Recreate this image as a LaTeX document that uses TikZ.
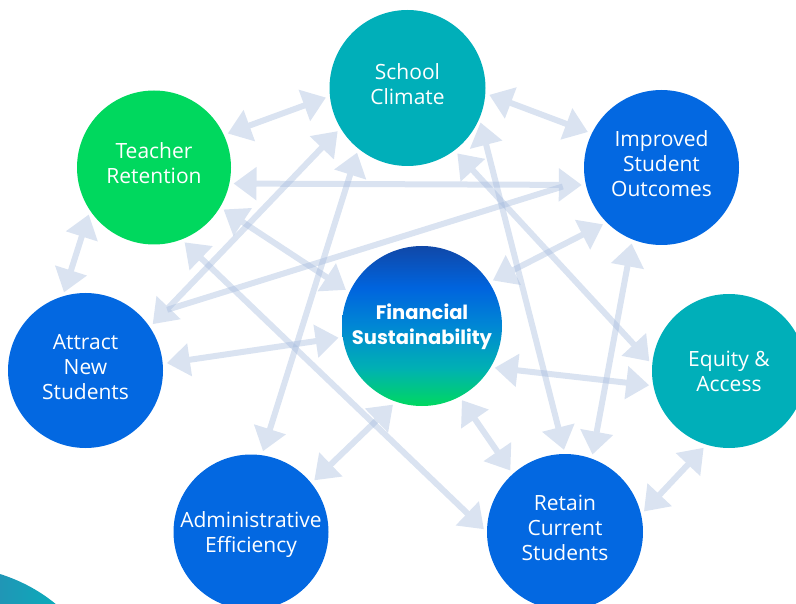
\documentclass[tikz,border=0pt]{standalone}
\usepackage{fontspec}
\setmainfont{Open Sans}
\newfontfamily\fsfont{Poppins}
\usetikzlibrary{arrows.meta,backgrounds}

\definecolor{tealc}{RGB}{0,175,185}
\definecolor{greenc}{RGB}{0,216,94}
\definecolor{bluec}{RGB}{3,104,225}
\definecolor{linkc}{RGB}{162,185,220}
\definecolor{fsD}{RGB}{16,72,168}
\definecolor{fsB}{RGB}{0,100,222}
\definecolor{fsM}{RGB}{0,135,212}
\definecolor{fsT}{RGB}{0,176,180}
\definecolor{fsG}{RGB}{0,216,96}
\definecolor{swA}{RGB}{32,150,182}
\definecolor{swB}{RGB}{10,172,186}

% vertical blend for the central circle: green at the bottom, dark blue on top
\pgfdeclareverticalshading{fsgrad}{100bp}{%
  color(0bp)=(fsG); color(25bp)=(fsG); color(37bp)=(fsT);
  color(50bp)=(fsM); color(62bp)=(fsB); color(75bp)=(fsD); color(100bp)=(fsD)}

\tikzset{
  bubble/.style={circle, inner sep=0pt, text=white, align=center,
    text depth=8pt, font=\fontsize{21}{25}\selectfont},
  tipshape/.tip={Triangle[length=23pt,width=32pt]},
  link/.style={line width=6pt, draw=linkc,
    tipshape-tipshape, shorten <=4pt, shorten >=4pt},
  plainlink/.style={line width=6pt, draw=linkc},
}
% every connector is its own see-through group, so crossings darken
\newcommand\linkpath[3]{%
  \begin{scope}[transparency group, opacity=0.4]
    \draw[#1] (#2) -- (#3);
  \end{scope}}

\begin{document}
\begin{tikzpicture}[x=1pt,y=-1pt]
\useasboundingbox (0,0) rectangle (796,604);
\clip (0,0) rectangle (796,604);

% corner swoosh
\shade[left color=swA, right color=swB]
  (0,574) .. controls (22,581) and (42,592) .. (58,606) -- (0,606) -- cycle;

% circles
\node[bubble, fill=tealc,  minimum size=156pt] (SC)  at (407.5,88)  {School\\Climate};
\node[bubble, fill=greenc, minimum size=154pt] (TR)  at (154,167.5) {Teacher\\Retention};
\node[bubble, fill=bluec,  minimum size=155pt] (ISO) at (661.5,167.5) {Improved\\Student\\Outcomes};
\node[bubble, shading=fsgrad, minimum size=160pt, text depth=4pt,
      font=\fsfont\bfseries\fontsize{19.5}{25}\selectfont] (FS) at (422,326) {Financial\\Sustainability};
\node[bubble, fill=bluec,  minimum size=155pt] (ANS) at (85.5,370.5) {Attract\\New\\Students};
\node[bubble, fill=tealc,  minimum size=154pt, text depth=0pt] (EA) at (729,371) {Equity \&\\Access};
\node[bubble, fill=bluec,  minimum size=155pt, text depth=0pt] (AE) at (251,532) {Administrative\\Efficiency};
\node[bubble, fill=bluec,  minimum size=156pt] (RCS) at (565,532) {Retain\\Current\\Students};

% connectors
\begin{scope}[on background layer]
\linkpath{link}{TR.25.6}{SC.186}
\linkpath{link}{SC.-4.3}{ISO.154.9}
\linkpath{link}{TR.214.9}{ANS.107.5}
\linkpath{link}{ANS.5.2}{FS.188.3}
\linkpath{link}{AE.39.1}{FS.251.9}
\linkpath{link}{FS.-62.8}{RCS.132.4}
\linkpath{link}{RCS.13}{EA.253.1}
\linkpath{link}{FS.-31.5}{EA.191}
\linkpath{link}{FS.33.6}{ISO.225}
\linkpath{link}{TR.-12}{ISO.193}
\linkpath{plainlink, shorten <=26pt, shorten >=23pt}{ANS.43}{ISO.189}
\linkpath{link}{SC.211.3}{ANS.34.1}
\linkpath{link}{SC.231.9}{AE.82.7}
\linkpath{link}{TR.-31.1}{FS.155.4}
\linkpath{link}{TR.-69.7}{RCS.180.9}
\linkpath{link}{SC.-23.5}{RCS.90}
\linkpath{link}{SC.-53.3}{EA.175.9}
\linkpath{link}{ISO.248.5}{RCS.70.2}
\end{scope}
\end{tikzpicture}
\end{document}
